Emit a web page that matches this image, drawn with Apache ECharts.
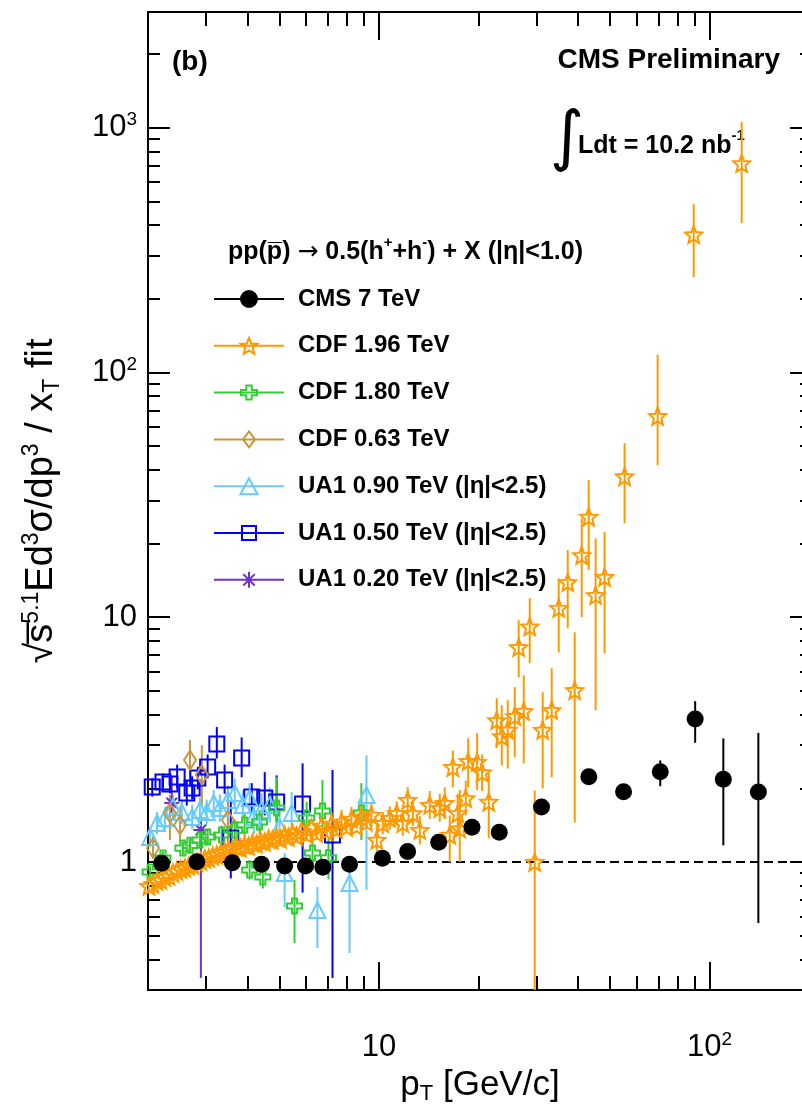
<!DOCTYPE html>
<html>
<head>
<meta charset="utf-8">
<title>xT scaling ratio</title>
<script src="https://cdn.jsdelivr.net/npm/echarts@6.0.0/dist/echarts.min.js"></script>
<style>
html,body{margin:0;padding:0;background:#fff;}
#chart{width:802px;height:1114px;}
</style>
</head>
<body>
<div id="chart"></div>
<script>
// ---------------- axis ticks and labels ----------------
const xMajorTicks = [10, 100];
const xMinorTicks = [3, 4, 5, 6, 7, 8, 9, 20, 30, 40, 50, 60, 70, 80, 90];
const yMajorTicks = [1, 10, 100, 1000];
const yMinorTicks = [0.4, 0.5, 0.6, 0.7, 0.8, 0.9, 2, 3, 4, 5, 6, 7, 8, 9,
  20, 30, 40, 50, 60, 70, 80, 90, 200, 300, 400, 500, 600, 700, 800, 900, 2000];
const xTickLabels = [10, 100];
const yTickLabels = [1, 10, 100, 1000];

// ---------------- series names ----------------
const names = ['CMS 7 TeV', 'CDF 1.96 TeV', 'CDF 1.80 TeV', 'CDF 0.63 TeV',
  'UA1 0.90 TeV (|\u03b7|<2.5)', 'UA1 0.50 TeV (|\u03b7|<2.5)', 'UA1 0.20 TeV (|\u03b7|<2.5)'];

// ---------------- data: [pT, ratio, errLow, errHigh] ----------------
const cms7 = [
  [2.20, 0.988, 0.975, 1.001], [2.81, 1.003, 0.99, 1.016], [3.60, 0.993, 0.98, 1.006],
  [4.41, 0.979, 0.965, 0.993], [5.18, 0.963, 0.95, 0.976], [5.99, 0.963, 0.95, 0.976],
  [6.76, 0.951, 0.94, 0.963], [8.14, 0.979, 0.965, 0.993], [10.23, 1.035, 1.02, 1.05],
  [12.2, 1.104, 1.09, 1.12], [15.15, 1.204, 1.19, 1.22], [19.1, 1.386, 1.37, 1.40],
  [23.1, 1.323, 1.30, 1.345], [31.0, 1.677, 1.65, 1.705], [43.1, 2.229, 2.10, 2.37],
  [54.9, 1.937, 1.80, 2.08], [70.9, 2.338, 2.04, 2.60], [90.4, 3.841, 3.07, 4.54],
  [110, 2.178, 1.17, 3.20], [140.4, 1.932, 0.563, 3.37]
];
const cdf196 = [
  [2.014, 0.798], [2.071, 0.813], [2.129, 0.836], [2.189, 0.844], [2.251, 0.868],
  [2.314, 0.877], [2.379, 0.902], [2.446, 0.919], [2.515, 0.936], [2.586, 0.945],
  [2.659, 0.963], [2.734, 0.972], [2.810, 1.0], [2.890, 1.009], [2.971, 1.029],
  [3.055, 1.038], [3.141, 1.058], [3.229, 1.068], [3.320, 1.088], [3.413, 1.099],
  [3.510, 1.119], [3.608, 1.130], [3.710, 1.152], [3.814, 1.141], [3.922, 1.173],
  [4.032, 1.162], [4.146, 1.196], [4.263, 1.185], [4.383, 1.218], [4.506, 1.207],
  [4.633, 1.242], [4.763, 1.230], [4.897, 1.265], [5.035, 1.242], [5.177, 1.289],
  [5.323, 1.265], [5.473, 1.314], [5.627, 1.277], [5.828, 1.339], [6.036, 1.301],
  [6.251, 1.377], [6.472, 1.314], [6.699, 1.403], [6.934, 1.339],
  [7.180, 1.430, 1.28, 1.60], [7.434, 1.364], [7.697, 1.457, 1.30, 1.63], [7.968, 1.390],
  [8.250, 1.498, 1.34, 1.68], [8.542, 1.403], [8.843, 1.527, 1.36, 1.71], [9.156, 1.457],
  [9.480, 1.556, 1.39, 1.74],
  [9.84, 1.23, 1.05, 1.42], [10.26, 1.44, 1.30, 1.60], [10.77, 1.51, 1.35, 1.69],
  [11.31, 1.58, 1.41, 1.77], [11.79, 1.44, 1.28, 1.62], [12.21, 1.79, 1.58, 2.02],
  [12.65, 1.58, 1.40, 1.78], [13.28, 1.35, 1.18, 1.54], [14.23, 1.71, 1.50, 1.95],
  [15.26, 1.66, 1.46, 1.90], [15.80, 1.74, 1.50, 2.02], [16.36, 1.29, 1.0, 1.55],
  [16.71, 2.44, 2.02, 2.86], [17.30, 1.58, 1.30, 1.90], [17.54, 1.37, 1.0, 1.97],
  [18.29, 1.82, 1.55, 2.15], [18.6, 2.58, 2.02, 3.20], [19.8, 2.56, 1.97, 3.36],
  [20.5, 2.32, 1.95, 2.75], [21.47, 1.76, 1.25, 2.30], [22.70, 3.79, 2.92, 4.67],
  [23.50, 3.26, 2.48, 4.37], [24.50, 3.46, 2.41, 4.58], [25.73, 3.94, 2.68, 5.18],
  [26.45, 7.54, 5.69, 9.72], [27.39, 4.13, 2.53, 5.79], [28.56, 9.16, 6.49, 11.96],
  [29.57, 1.0, 0.1, 1.96], [31.26, 3.46, 2.0, 4.94], [33.28, 4.17, 2.22, 6.19],
  [34.95, 10.9, 7.19, 14.4], [37.21, 13.9, 9.02, 18.8], [39.07, 5.03, 1.45, 8.68],
  [41.02, 17.9, 10.0, 25.4], [43.07, 25.7, 15.6, 36.3], [45.2, 12.3, 4.17, 21.0],
  [48.1, 14.6, 7.13, 22.3], [55.3, 37.6, 24.2, 51.4], [69.6, 66.3, 41.8, 118],
  [89.5, 366, 245, 487], [125, 715, 408, 1054]
];
const cdf180 = [
  [2.03, 0.91, 0.86, 0.96], [2.22, 1.038, 0.98, 1.10], [2.55, 1.14, 1.07, 1.21],
  [2.68, 1.17, 1.10, 1.25], [2.87, 1.23, 1.14, 1.32], [3.03, 1.265, 1.17, 1.37],
  [3.34, 1.29, 1.18, 1.41], [3.66, 1.35, 1.22, 1.49], [3.92, 1.416, 1.27, 1.58],
  [4.06, 0.928, 0.85, 1.02], [4.35, 1.457, 1.30, 1.63], [4.45, 0.868, 0.78, 0.97],
  [4.90, 1.662, 1.39, 2.22], [5.55, 0.661, 0.467, 0.844], [6.04, 1.513, 1.30, 1.76],
  [6.29, 1.088, 0.92, 1.28], [6.74, 1.615, 1.265, 2.16], [7.03, 1.04, 0.85, 1.25],
  [8.84, 1.585, 1.23, 2.10]
];
const cdf063 = [
  [2.07, 1.14, 1.03, 1.27], [2.33, 1.585, 1.23, 1.88], [2.50, 1.416, 1.20, 1.66],
  [2.68, 2.61, 2.03, 3.15], [2.91, 2.27, 1.71, 3.0], [3.49, 1.484, 1.15, 1.84]
];
const ua1090 = [
  [2.03, 1.265, 1.15, 1.39], [2.13, 1.443, 1.30, 1.60], [2.25, 1.513, 1.36, 1.68],
  [2.38, 1.677, 1.50, 1.87], [2.53, 1.601, 1.43, 1.79], [2.72, 1.526, 1.36, 1.71],
  [2.87, 1.631, 1.45, 1.83], [3.01, 1.601, 1.42, 1.80], [3.16, 1.742, 1.54, 1.97],
  [3.30, 1.662, 1.46, 1.89], [3.49, 1.793, 1.57, 2.05], [3.66, 1.913, 1.67, 2.19],
  [3.87, 1.710, 1.49, 1.96], [4.06, 1.825, 1.58, 2.10], [4.18, 1.526, 1.30, 1.79],
  [4.41, 1.631, 1.39, 1.91], [4.67, 1.710, 1.45, 2.01], [5.00, 1.390, 1.15, 1.68],
  [5.18, 0.902, 0.655, 1.088], [5.44, 1.585, 1.30, 1.93], [6.51, 0.637, 0.445, 0.79],
  [8.14, 0.821, 0.425, 0.954], [9.16, 1.878, 0.769, 2.73]
];
const ua1050 = [
  [2.06, 2.025, 1.85, 2.20], [2.22, 2.123, 1.95, 2.30], [2.33, 2.083, 1.91, 2.27],
  [2.45, 2.224, 2.00, 2.50], [2.62, 1.913, 1.70, 2.15], [2.72, 2.005, 1.80, 2.24],
  [2.83, 2.204, 1.98, 2.45], [3.03, 2.445, 2.20, 2.75], [3.23, 3.036, 2.65, 3.56],
  [3.41, 2.163, 1.90, 2.50], [3.56, 1.253, 0.858, 1.79], [3.84, 2.660, 2.22, 3.23],
  [4.12, 1.843, 1.60, 2.10], [4.51, 1.825, 1.55, 2.33], [4.90, 1.758, 1.45, 2.26],
  [5.87, 1.725, 0.75, 2.53], [7.23, 1.289, 0.336, 2.376]
];
const ua1020 = [
  [2.36, 1.742, 1.585, 2.22], [2.89, 1.351, 0.336, 1.556]
];

// ---------------- styling constants ----------------
const FONT = '"Liberation Sans", Arimo, Arial, Helvetica, sans-serif';
const X_MIN = 2, X_MAX = 204, Y_MIN = 0.3, Y_MAX = 2970;
const C = {
  cms: '#000000', cdf196: '#ff9900', cdf180: '#33cc33', cdf063: '#c8963e',
  ua1090: '#66ccff', ua1050: '#0000ff', ua1020: '#7030d0'
};
const SYM = {
  star: 'path://M50 0 L62.9 32.2 L97.6 34.5 L70.9 56.8 L79.4 90.5 L50 72 L20.6 90.5 L29.1 56.8 L2.4 34.5 L37.1 32.2 Z',
  cross: 'path://M33 0 L67 0 L67 33 L100 33 L100 67 L67 67 L67 100 L33 100 L33 67 L0 67 L0 33 L33 33 Z',
  diamond: 'path://M50 0 L100 50 L50 100 L0 50 Z',
  tri: 'path://M50 0 L100 100 L0 100 Z',
  ast: 'path://M50 0 L50 100 M0 50 L100 50 M15 15 L85 85 M85 15 L15 85'
};
const LEG = {
  cms: 'path://M0 8 L70 8 M27 8 A8 8 0 1 0 43 8 A8 8 0 1 0 27 8 Z',
  star: 'path://M0 8 L70 8 M35 0 L37.29 5.68 L43.41 6.11 L38.71 10.05 L40.2 16 L35 12.74 L29.8 16 L31.29 10.05 L26.59 6.11 L32.71 5.68 Z',
  cross: 'path://M0 8 L70 8 M32.3 1 L37.7 1 L37.7 5.3 L43 5.3 L43 10.7 L37.7 10.7 L37.7 15 L32.3 15 L32.3 10.7 L27 10.7 L27 5.3 L32.3 5.3 Z M0 0 M70 16',
  diamond: 'path://M0 8 L70 8 M35 0 L41 8 L35 16 L29 8 Z',
  tri: 'path://M0 8 L70 8 M35 0 L43.5 16 L26.5 16 Z',
  square: 'path://M0 8 L70 8 M28 1 L42 1 L42 15 L28 15 Z M0 0 M70 16',
  ast: 'path://M0 8 L70 8 M35 0 L35 16 M29.3 2.3 L40.7 13.7 M40.7 2.3 L29.3 13.7'
};

const AXL = { color: '#000', width: 2 };
function xAxisDef(pos, ticks, len, main) {
  return {
    type: 'log', logBase: 10, min: X_MIN, max: X_MAX, position: pos, gridIndex: 0,
    axisLine: { show: main, lineStyle: AXL },
    axisTick: { show: true, inside: true, length: len, lineStyle: AXL, customValues: ticks },
    axisLabel: (main && pos === 'bottom') ? {
      show: true, customValues: xTickLabels, margin: 40, color: '#000',
      fontFamily: FONT, fontSize: 31, lineHeight: 34,
      formatter: v => { const e = Math.round(Math.log10(v)); return e === 1 ? '10' : '10{sup|' + e + '}'; },
      rich: { sup: { fontSize: 19, lineHeight: 12, verticalAlign: 'top', fontFamily: FONT, color: '#000' } }
    } : { show: false },
    splitLine: { show: false }, minorTick: { show: false }, minorSplitLine: { show: false },
    axisPointer: { show: false }, silent: true
  };
}
function yAxisDef(pos, ticks, len, main) {
  return {
    type: 'log', logBase: 10, min: Y_MIN, max: Y_MAX, position: pos, gridIndex: 0,
    axisLine: { show: main, lineStyle: AXL },
    axisTick: { show: true, inside: true, length: len, lineStyle: AXL, customValues: ticks },
    axisLabel: (main && pos === 'left') ? {
      show: true, customValues: yTickLabels, margin: 11, color: '#000',
      fontFamily: FONT, fontSize: 31, lineHeight: 34,
      formatter: v => { const e = Math.round(Math.log10(v)); return e === 0 ? '1' : (e === 1 ? '10' : '10{sup|' + e + '}'); },
      rich: { sup: { fontSize: 19, lineHeight: 12, verticalAlign: 'top', fontFamily: FONT, color: '#000' } }
    } : { show: false },
    splitLine: { show: false }, minorTick: { show: false }, minorSplitLine: { show: false },
    axisPointer: { show: false }, silent: true
  };
}

const xAxes = [
  xAxisDef('bottom', xMajorTicks, 28, true),
  xAxisDef('bottom', xMinorTicks, 14, false),
  xAxisDef('top', xMajorTicks, 28, true),
  xAxisDef('top', xMinorTicks, 14, false)
];
Object.assign(xAxes[0], {
  name: '{b|p}{sub|T}{b| [GeV/c]}', nameLocation: 'middle', nameGap: 75, nameMoveOverlap: false,
  nameTextStyle: {
    color: '#000', fontFamily: FONT, fontSize: 35,
    rich: {
      b: { fontSize: 35, lineHeight: 40, fontFamily: FONT, color: '#000' },
      sub: { fontSize: 22, lineHeight: 16, verticalAlign: 'bottom', fontFamily: FONT, color: '#000' }
    }
  }
});
const yAxes = [
  yAxisDef('left', yMajorTicks, 22, true),
  yAxisDef('left', yMinorTicks, 12, false),
  yAxisDef('right', yMajorTicks, 22, true),
  yAxisDef('right', yMinorTicks, 12, false)
];
Object.assign(yAxes[0], {
  name: '{b|\u221as\u0305}{sup|5.1}{b|Ed}{sup|3}{b|\u03c3/dp}{sup|3}{b| / x}{sub|T}{b| fit}',
  nameLocation: 'middle', nameRotate: 90, nameGap: 84, nameMoveOverlap: false,
  nameTextStyle: {
    color: '#000', fontFamily: FONT, fontSize: 38,
    rich: {
      b: { fontSize: 38, lineHeight: 44, fontFamily: FONT, color: '#000' },
      sup: { fontSize: 23, lineHeight: 16, verticalAlign: 'top', fontFamily: FONT, color: '#000' },
      sub: { fontSize: 23, lineHeight: 18, verticalAlign: 'bottom', fontFamily: FONT, color: '#000' }
    }
  }
});

function errSeries(name, data, color, width) {
  return {
    type: 'custom', name: name + ' (errors)', data: data.filter(d => d.length === 4),
    clip: true, silent: true, z: 2, encode: { x: 0, y: 1 },
    renderItem: (params, api) => {
      const x = api.value(0);
      const a = api.coord([x, api.value(2)]);
      const b = api.coord([x, api.value(3)]);
      return { type: 'line', shape: { x1: a[0], y1: a[1], x2: b[0], y2: b[1] },
        style: { stroke: color, lineWidth: width } };
    }
  };
}
function markSeries(name, data, symbol, size, color, hollow, extra) {
  return Object.assign({
    type: 'scatter', name: name, data: data.map(d => [d[0], d[1]]),
    symbol: symbol, symbolSize: size, clip: true, silent: true, z: 3,
    itemStyle: { color: hollow ? 'rgba(0,0,0,0)' : color, borderColor: color, borderWidth: hollow ? 2 : 0, opacity: 1 }
  }, extra || {});
}

const series = [
  errSeries(names[6], ua1020, C.ua1020, 2),
  markSeries(names[6], ua1020, SYM.ast, 15, C.ua1020, true),
  errSeries(names[5], ua1050, C.ua1050, 2),
  markSeries(names[5], ua1050, 'rect', 15, C.ua1050, true),
  errSeries(names[4], ua1090, C.ua1090, 2),
  markSeries(names[4], ua1090, SYM.tri, 16, C.ua1090, true),
  errSeries(names[3], cdf063, C.cdf063, 2),
  markSeries(names[3], cdf063, SYM.diamond, [12, 19], C.cdf063, true),
  errSeries(names[2], cdf180, C.cdf180, 2),
  markSeries(names[2], cdf180, SYM.cross, 15, C.cdf180, true),
  errSeries(names[1], cdf196, C.cdf196, 2),
  markSeries(names[1], cdf196, SYM.star, 17, C.cdf196, true),
  errSeries(names[0], cms7, C.cms, 2),
  markSeries(names[0], cms7, 'circle', 17, C.cms, false, {
    markLine: {
      silent: true, symbol: ['none', 'none'], label: { show: false },
      lineStyle: { color: '#000', width: 2, type: [9, 5] },
      data: [{ yAxis: 1 }], z: 1
    }
  })
];

function legItem(i, icon, color, hollow) {
  return { name: names[i], icon: icon,
    itemStyle: { color: hollow ? 'rgba(0,0,0,0)' : color, borderColor: color, borderWidth: 2, opacity: 1 } };
}

const boldRich = {
  b: { fontSize: 25, fontWeight: 'bold', lineHeight: 34, fontFamily: FONT, fill: '#000' },
  s: { fontSize: 15, fontWeight: 'bold', lineHeight: 12, verticalAlign: 'top', fontFamily: FONT, fill: '#000' },
  a: { fontSize: 25, fontWeight: 'normal', lineHeight: 34, fontFamily: '"DejaVu Sans", sans-serif', fill: '#000' }
};

const option = {
  animation: false,
  backgroundColor: '#ffffff',
  textStyle: { fontFamily: FONT },
  grid: { left: 148, right: -10, top: 12, bottom: 124, containLabel: false, outerBoundsMode: 'none', show: false },
  xAxis: xAxes,
  yAxis: yAxes,
  legend: {
    orient: 'vertical', left: 213, top: 284, itemWidth: 70, itemHeight: 16, itemGap: 16.8,
    selectedMode: false, padding: 0,
    textStyle: { fontFamily: FONT, fontSize: 24, fontWeight: 'bold', color: '#000', lineHeight: 30, padding: [0, 0, 0, 9] },
    data: [
      legItem(0, LEG.cms, C.cms, false),
      legItem(1, LEG.star, C.cdf196, true),
      legItem(2, LEG.cross, C.cdf180, true),
      legItem(3, LEG.diamond, C.cdf063, true),
      legItem(4, LEG.tri, C.ua1090, true),
      legItem(5, LEG.square, C.ua1050, true),
      legItem(6, LEG.ast, C.ua1020, true)
    ]
  },
  graphic: [
    { type: 'text', x: 172, y: 62, silent: true,
      style: { text: '(b)', fontSize: 28, fontWeight: 'bold', fontFamily: FONT, fill: '#000', align: 'left', verticalAlign: 'middle' } },
    { type: 'text', x: 780, y: 60, silent: true,
      style: { text: 'CMS Preliminary', fontSize: 28, fontWeight: 'bold', fontFamily: FONT, fill: '#000', align: 'right', verticalAlign: 'middle' } },
    { type: 'text', x: 567, y: 141, silent: true,
      style: { text: '\u222b', fontSize: 66, fontFamily: '"DejaVu Sans", sans-serif', fill: '#000', align: 'center', verticalAlign: 'middle' } },
    { type: 'text', x: 578, y: 146, silent: true,
      style: { text: '{b|Ldt = 10.2 nb}{s|-1}', fontSize: 25, fontWeight: 'bold', fontFamily: FONT, fill: '#000', align: 'left', verticalAlign: 'middle',
        rich: {
          b: { fontSize: 25, fontWeight: 'bold', lineHeight: 36, fontFamily: FONT, fill: '#000' },
          s: { fontSize: 15, fontWeight: 'bold', lineHeight: 12, verticalAlign: 'top', fontFamily: FONT, fill: '#000' }
        } } },
    { type: 'text', x: 228, y: 252, silent: true,
      style: { text: '{b|pp(p\u0305)}{b| }{a|\u2192}{b| 0.5(h}{s|+}{b|+h}{s|-}{b|) + X (|\u03b7|<1.0)}',
        fontSize: 25, fontWeight: 'bold', fontFamily: FONT, fill: '#000', align: 'left', verticalAlign: 'middle', rich: boldRich } }
  ],
  series: series
};

const chart = echarts.init(document.getElementById('chart'), null, { renderer: 'canvas', width: 802, height: 1114 });
chart.setOption(option);
</script>
</body>
</html>
